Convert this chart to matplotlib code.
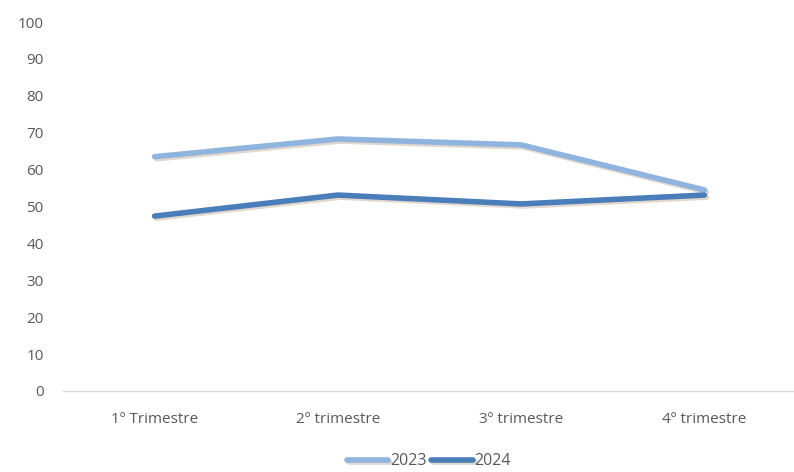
import numpy as np
import matplotlib.pyplot as plt
import matplotlib.patheffects as pe

categorias = ["1º Trimestre", "2º trimestre", "3º trimestre", "4º trimestre"]
v2023 = [63.5, 68.3, 66.7, 54.5]
v2024 = [47.4, 53.1, 50.7, 53.1]

plt.rcParams['font.family'] = ['Open Sans', 'DejaVu Sans']
cinza = "#595959"

fig = plt.figure(figsize=(7.94, 4.72), dpi=100)
ax = fig.add_axes([63/794, 1 - 391/472, 733/794, 369/472])

x = np.arange(len(categorias))
sombra = [pe.SimpleLineShadow(offset=(1.5, -1.5), shadow_color="#c0a890", alpha=0.45), pe.Normal()]
ax.plot(x, v2023, color="#8FB4DE", lw=4, solid_capstyle="round", label="2023", path_effects=sombra)
ax.plot(x, v2024, color="#4A7EBB", lw=4, solid_capstyle="round", label="2024", path_effects=sombra)

ax.set_xlim(-0.5, len(categorias) - 0.5)
ax.set_ylim(0, 100)
ax.set_yticks(range(0, 101, 10))
ax.set_xticks(x)
ax.set_xticklabels(categorias)
ax.tick_params(length=0, colors=cinza, labelsize=11)
ax.tick_params(axis="y", pad=14)
ax.tick_params(axis="x", pad=15)
for s in ["top", "right", "left"]:
    ax.spines[s].set_visible(False)
ax.spines["bottom"].set_color("#d9d9d9")
ax.spines["bottom"].set_linewidth(1)

leg = fig.legend(loc="lower center", bbox_to_anchor=(0.54, -0.025), ncol=2, frameon=False,
                 fontsize=11.5, handlelength=2.6, handletextpad=0.1, columnspacing=0.3)
for t in leg.get_texts():
    t.set_color(cinza)

fig.savefig("out.png", dpi=100)
